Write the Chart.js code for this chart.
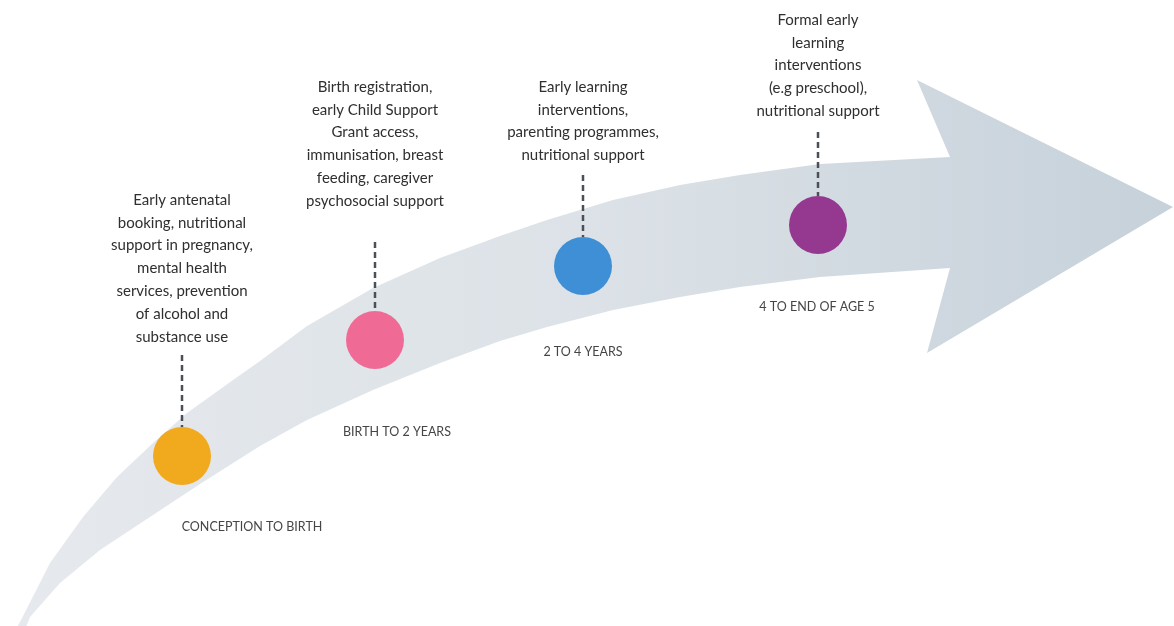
<!DOCTYPE html>
<html>
<head>
<meta charset="utf-8">
<script src="https://cdn.jsdelivr.net/npm/chart.js@4"></script>
<style>
  html, body { margin: 0; padding: 0; background: #ffffff; }
  #journey { display: block; }
</style>
</head>
<body>
<canvas id="journey" width="1174" height="626"></canvas>
<script>
// stages along the arrow
const stages = ["CONCEPTION TO BIRTH", "BIRTH TO 2 YEARS", "2 TO 4 YEARS", "4 TO END OF AGE 5"];
const dotColors = ["#f1a91e", "#ef6b96", "#3f8fd7", "#953890"];
const dotX = [182, 375, 583, 818];
const dotY = [456, 340, 266, 225];
const connectorTop = [355, 242, 175, 132];
const stageLabelX = [252, 397, 583, 817];
const stageLabelY = [527, 432, 352, 307];

// intervention text for each stage
const descriptions = [
  ["Early antenatal", "booking, nutritional", "support in pregnancy,", "mental health", "services, prevention", "of alcohol and", "substance use"],
  ["Birth registration,", "early Child Support", "Grant access,", "immunisation, breast", "feeding, caregiver", "psychosocial support"],
  ["Early learning", "interventions,", "parenting programmes,", "nutritional support"],
  ["Formal early", "learning", "interventions", "(e.g preschool),", "nutritional support"]
];
const descFirstLineY = [200, 87, 87, 20];

// outline of the curved arrow
const arrowUpperX = [14, 20, 50, 83, 117, 153, 187, 233, 260, 307, 373, 440, 500, 547, 613, 680, 740, 820, 950];
const arrowUpperY = [632, 622, 563, 517, 477, 443, 413, 380, 361, 326, 288, 258, 236, 220, 200, 185, 175, 164, 157];
const arrowHeadX = [917, 1173, 927];
const arrowHeadY = [80, 207, 353];
const arrowLowerX = [950, 820, 740, 680, 613, 547, 500, 440, 373, 307, 260, 200, 150, 100, 60, 30, 24];
const arrowLowerY = [268, 277, 287, 297, 310, 327, 341, 363, 390, 420, 446, 484, 517, 550, 583, 617, 632];

const arrowPoints = [];
arrowUpperX.forEach((x, i) => arrowPoints.push({x: x, y: arrowUpperY[i]}));
arrowHeadX.forEach((x, i) => arrowPoints.push({x: x, y: arrowHeadY[i]}));
arrowLowerX.forEach((x, i) => arrowPoints.push({x: x, y: arrowLowerY[i]}));
arrowPoints.push(arrowPoints[0]);

const connectorPoints = [];
dotX.forEach((x, i) => {
  connectorPoints.push({x: x, y: connectorTop[i]});
  connectorPoints.push({x: x, y: dotY[i] - 29});
  connectorPoints.push({x: x, y: null});
});

const dotPoints = dotX.map((x, i) => ({x: x, y: dotY[i]}));

const textPlugin = {
  id: "journeyText",
  afterDraw(chart) {
    const ctx = chart.ctx;
    const xs = chart.scales.x;
    const ys = chart.scales.y;
    ctx.save();
    ctx.textAlign = "center";
    ctx.textBaseline = "middle";

    ctx.fillStyle = "#2f2f2f";
    ctx.font = "15px Lato";
    descriptions.forEach((lines, i) => {
      lines.forEach((line, j) => {
        ctx.fillText(line, xs.getPixelForValue(dotX[i]), ys.getPixelForValue(descFirstLineY[i] + j * 22.8));
      });
    });

    ctx.fillStyle = "#454545";
    ctx.font = "12.5px Lato";
    stages.forEach((label, i) => {
      ctx.fillText(label, xs.getPixelForValue(stageLabelX[i]), ys.getPixelForValue(stageLabelY[i]));
    });
    ctx.restore();
  }
};

new Chart("journey", {
  type: "line",
  data: {
    datasets: [{
      data: dotPoints,
      showLine: false,
      pointRadius: 29,
      pointHoverRadius: 29,
      pointBackgroundColor: dotColors,
      pointBorderWidth: 0,
      clip: false,
      order: 1
    }, {
      data: connectorPoints,
      borderColor: "#4b5058",
      borderWidth: 2.5,
      borderDash: [6, 4],
      pointRadius: 0,
      spanGaps: false,
      order: 2
    }, {
      data: arrowPoints,
      fill: "shape",
      tension: 0,
      borderWidth: 0,
      borderColor: "rgba(0,0,0,0)",
      pointRadius: 0,
      backgroundColor: (context) => {
        const {ctx, chartArea} = context.chart;
        if (!chartArea) return "#dde2e7";
        const g = ctx.createLinearGradient(chartArea.left, 0, chartArea.right, 0);
        g.addColorStop(0, "#e6e9ed");
        g.addColorStop(0.5, "#dce2e7");
        g.addColorStop(1, "#c6d1da");
        return g;
      },
      order: 3
    }]
  },
  options: {
    responsive: false,
    animation: false,
    layout: { padding: 0, autoPadding: false },
    plugins: {
      legend: { display: false },
      tooltip: { enabled: false }
    },
    scales: {
      x: { type: "linear", min: 0, max: 1174, display: false },
      y: { type: "linear", min: 0, max: 626, reverse: true, display: false }
    }
  },
  plugins: [textPlugin]
});
</script>
</body>
</html>
